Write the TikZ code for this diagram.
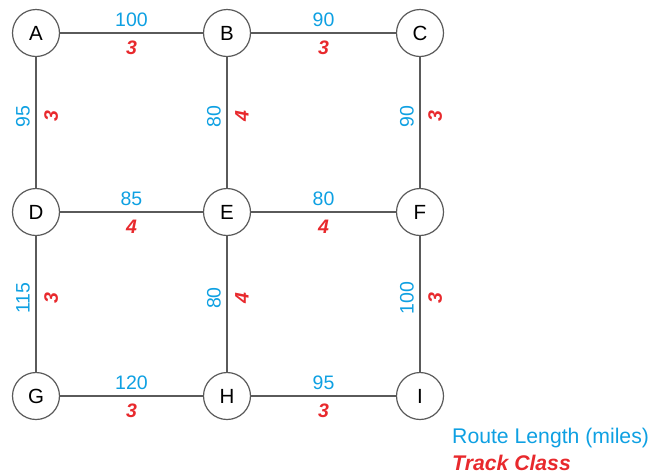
\documentclass[tikz,border=0pt]{standalone}
\usepackage{fontspec}
\setmainfont{Liberation Sans}
\usetikzlibrary{calc}
\definecolor{lenblue}{HTML}{0EA0E2}
\definecolor{classred}{HTML}{E8292D}
\definecolor{edgegray}{HTML}{5A5A5A}
\tikzset{
  station/.style={circle, draw=edgegray, line width=1.2pt, fill=white,
    minimum size=47pt, inner sep=0pt, font=\fontsize{20.5}{20.5}\selectfont},
  track/.style={draw=edgegray, line width=1.5pt},
  len/.style={text=lenblue, inner sep=0pt, font=\fontsize{19.5}{19.5}\selectfont},
  cls/.style={text=classred, inner sep=0pt, font=\fontsize{19.5}{19.5}\selectfont\bfseries\itshape},
}
% horizontal route: length above, class below
\newcommand{\hroute}[4]{%
  \draw[track] (#1) -- (#2)
    node[len, midway, above=6pt] {#3}
    node[cls, midway, below=7pt] {#4};}
% vertical route: rotated labels, length left, class right
\newcommand{\vroute}[4]{%
  \draw[track] (#1) -- (#2);
  \node[len, rotate=90, anchor=south] at ($($(#1)!0.5!(#2)$)+(-6,-6)$) {#3};
  \node[cls, rotate=90, anchor=north] at ($($(#1)!0.5!(#2)$)+(8,-6)$) {#4};}
\begin{document}
\begin{tikzpicture}[x=1pt,y=-1pt]
\useasboundingbox (0,0) rectangle (664,475);
\coordinate (pA) at (36,33);  \coordinate (pB) at (227,33);  \coordinate (pC) at (420,33);
\coordinate (pD) at (36,212); \coordinate (pE) at (227,212); \coordinate (pF) at (420,212);
\coordinate (pG) at (36,396); \coordinate (pH) at (227,396); \coordinate (pI) at (420,396);
\hroute{pA}{pB}{100}{3}
\hroute{pB}{pC}{90}{3}
\hroute{pD}{pE}{85}{4}
\hroute{pE}{pF}{80}{4}
\hroute{pG}{pH}{120}{3}
\hroute{pH}{pI}{95}{3}
\vroute{pA}{pD}{95}{3}
\vroute{pB}{pE}{80}{4}
\vroute{pC}{pF}{90}{3}
\vroute{pD}{pG}{115}{3}
\vroute{pE}{pH}{80}{4}
\vroute{pF}{pI}{100}{3}
\node[station] (A) at (pA) {A};
\node[station] (B) at (pB) {B};
\node[station] (C) at (pC) {C};
\node[station] (D) at (pD) {D};
\node[station] (E) at (pE) {E};
\node[station] (F) at (pF) {F};
\node[station] (G) at (pG) {G};
\node[station] (H) at (pH) {H};
\node[station] (I) at (pI) {I};
% legend
\node[len, anchor=west, font=\fontsize{21.2}{21.2}\selectfont] (legLen) at (452,438) {Route Length (miles)};
\node[cls, anchor=west, font=\fontsize{21.2}{21.2}\selectfont\bfseries\itshape] (legCls) at (452,463) {Track Class};
\end{tikzpicture}
\end{document}
